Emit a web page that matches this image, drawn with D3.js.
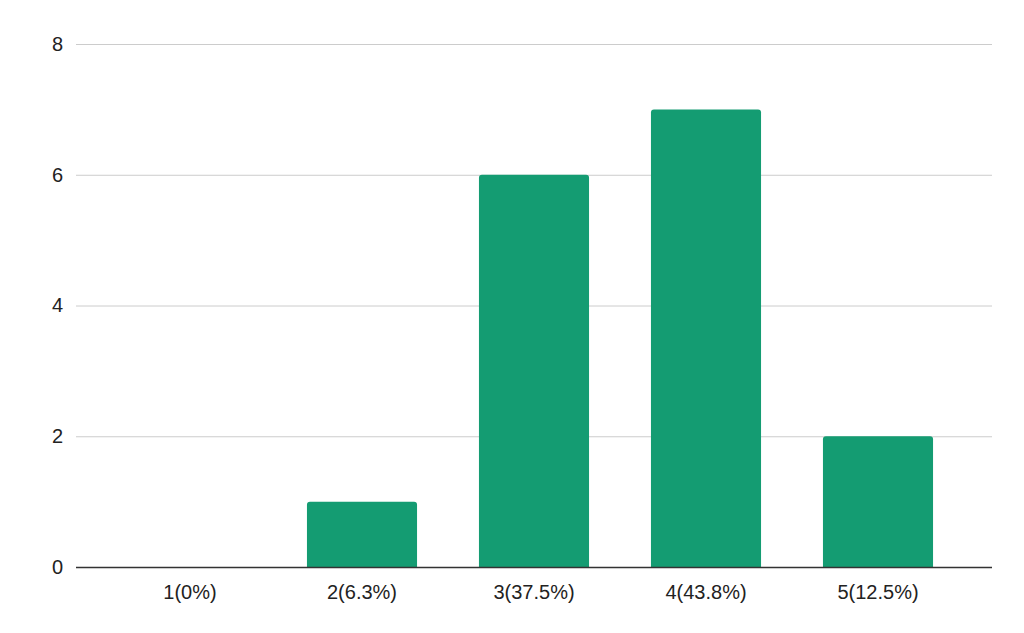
<!DOCTYPE html>
<html><head><meta charset="utf-8">
<script src="https://cdn.jsdelivr.net/npm/d3@7"></script>
<style>body{margin:0;background:#fff}svg{display:block}</style>
</head><body>
<svg id="c" width="1024" height="633"></svg>
<script>
const categories = ["1(0%)", "2(6.3%)", "3(37.5%)", "4(43.8%)", "5(12.5%)"];
const values = [0, 1, 6, 7, 2];
const yTicks = [0, 2, 4, 6, 8];

(function () {
const svg = d3.select("#c");
const gridLeft = 76, gridRight = 992, plotTop = 44, plotBottom = 567;
const x = d3.scaleBand().domain(categories).range([104, 964]).paddingInner(0.36).paddingOuter(0.18);
const y = d3.scaleLinear().domain([0, 8]).range([plotBottom, plotTop]);
const font = "'Liberation Sans', Arial, sans-serif";

const yAxis = d3.axisLeft(y).tickValues(yTicks).tickSize(-(gridRight - gridLeft)).tickPadding(13).tickFormat(d3.format("d"));
const gy = svg.append("g").attr("transform", `translate(${gridLeft},0)`).call(yAxis);
gy.select(".domain").remove();
gy.selectAll(".tick line").attr("stroke", "#cccccc").attr("stroke-width", 1);
gy.selectAll(".tick text").attr("font-family", font).attr("font-size", 20).attr("fill", "#222");

svg.append("g").selectAll("path").data(values.map((v, i) => ({c: categories[i], v})).filter(d => d.v > 0))
  .join("path")
  .attr("fill", "#149c72")
  .attr("d", d => {
    const x0 = x(d.c), w = x.bandwidth(), y0 = y(d.v), y1 = y(0), r = 3;
    return `M${x0},${y1}V${y0 + r}Q${x0},${y0} ${x0 + r},${y0}H${x0 + w - r}Q${x0 + w},${y0} ${x0 + w},${y0 + r}V${y1}Z`;
  });

svg.append("line").attr("x1", gridLeft).attr("x2", gridRight).attr("y1", y(0) + 0.5).attr("y2", y(0) + 0.5)
  .attr("stroke", "#333").attr("stroke-width", 1.3);

const xAxis = d3.axisBottom(x).tickSize(0).tickPadding(18);
const gx = svg.append("g").attr("transform", `translate(0,${plotBottom})`).call(xAxis);
gx.select(".domain").remove();
gx.selectAll(".tick text").attr("font-family", font).attr("font-size", 20).attr("fill", "#222");
})();
</script>
</body></html>
